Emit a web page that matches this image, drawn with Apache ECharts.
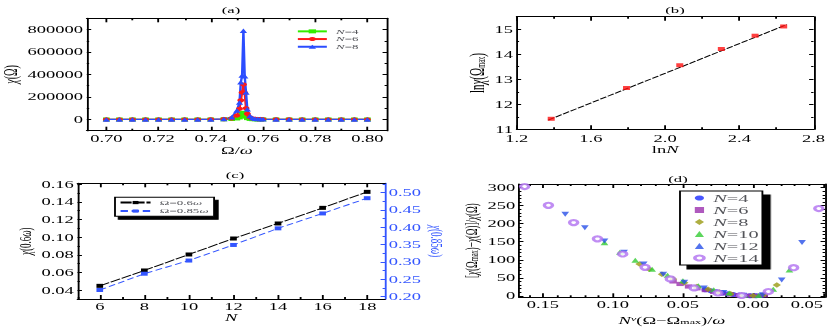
<!DOCTYPE html>
<html><head><meta charset="utf-8">
<script src="https://cdn.jsdelivr.net/npm/echarts@6/dist/echarts.min.js"></script>
<style>
html,body{margin:0;padding:0;background:#fff;overflow:hidden}
#wrap{width:830px;height:327px;overflow:hidden;position:relative;background:#fff}
#chart{height:327px;transform-origin:0 0}
</style></head>
<body><div id="wrap"><div id="chart"></div></div>
<script>
// ---------------- data ----------------
// (a) susceptibility vs frequency
const omegaA = [0.700,0.705,0.710,0.715,0.720,0.725,0.730,0.735,0.740,
  0.745,0.748,0.750,0.751,0.7515,0.752,0.7525,0.753,0.7535,0.754,0.755,0.756,0.757,0.758,0.759,0.760,
  0.765,0.770,0.775,0.780,0.785,0.790,0.795,0.800];
const chiN4 = [0,0,0,0,0,0,0,0,100,
  1500,4000,9000,18000,32000,52000,60000,45000,25000,12000,5000,2500,1500,1000,600,400,
  200,100,0,0,0,0,0,0];
const chiN6 = [0,0,0,0,0,0,0,0,200,
  3000,10000,35000,95000,170000,240000,311000,236000,100000,50000,20000,9000,5000,3000,2000,1500,
  500,200,100,0,0,0,0,0];
const chiN8 = [0,0,0,0,0,0,0,0,300,
  5000,20000,80000,150000,330000,390000,790000,385000,240000,90000,30000,12000,7000,4500,3000,2000,
  700,300,100,0,0,0,0,0];
// (b) ln chi(Omega_max) vs ln N
const lnN = [1.386,1.792,2.079,2.303,2.485,2.639];
const lnChiMax = [11.42,12.65,13.56,14.21,14.74,15.11];
const fitLnN = [1.37,2.655];
const fitLnChi = [11.37,15.18];
// (c) chi at fixed frequency vs N
const sizesN = [6,8,10,12,14,16,18];
const chi06 = [0.0449,0.0623,0.0804,0.0985,0.1155,0.1332,0.1513];
const chi085 = [0.219,0.266,0.304,0.349,0.397,0.440,0.484];
// (d) data collapse
const dxN4 = [-0.034,-0.030,-0.026,-0.022,-0.018,-0.014,-0.010,-0.006,-0.002,0.002,0.006];
const dyN4 = [17,14,11,8,5.5,3.5,2,1,0.2,0.2,1];
const dxN6 = [-0.057,-0.052,-0.046,-0.040,-0.034,-0.028,-0.022,-0.016,-0.010,-0.004,0.002,0.008];
const dyN6 = [40,33,26,21,16,11,7,4,2,0.5,0.2,1.5];
const dxN8 = [-0.081,-0.074,-0.065,-0.057,-0.049,-0.040,-0.032,-0.024,-0.016,-0.008,0.000,0.008,0.017];
const dyN8 = [88,74,60,47,36,26,18,11,6,2,0,4,30];
const dxN10 = [-0.106,-0.095,-0.084,-0.072,-0.061,-0.050,-0.039,-0.028,-0.017,-0.006,0.004,0.0145,0.026];
const dyN10 = [147,121,99,74,57,42,28,17,8,2,1,18,72];
const dxN12 = [-0.134,-0.120,-0.106,-0.092,-0.078,-0.064,-0.049,-0.035,-0.021,-0.007,0.007,0.0205,0.035];
const dyN12 = [226,189,152,121,88,60,38,22,9,1.5,3,44,148];
const dxN14 = [-0.163,-0.146,-0.128,-0.111,-0.093,-0.077,-0.059,-0.042,-0.025,-0.008,0.011,0.029,0.047];
const dyN14 = [303,251,203,158,116,79,47,22,8,1,12,78,242];
// tick labels
const ticksAx = [0.70,0.72,0.74,0.76,0.78,0.80];
const ticksAy = [0,200000,400000,600000,800000];
const ticksBx = [1.2,1.6,2.0,2.4,2.8];
const ticksBy = [11,12,13,14,15];
const ticksCx = [6,8,10,12,14,16,18];
const ticksCyL = [0.04,0.06,0.08,0.10,0.12,0.14,0.16];
const ticksCyR = [0.20,0.25,0.30,0.35,0.40,0.45,0.50];
const ticksDx = [-0.15,-0.10,-0.05,0.00,0.05];
const ticksDy = [0,50,100,150,200,250,300];
// minor ticks
const minAx = [0.71,0.73,0.75,0.77,0.79];
const minAy = [-100000,100000,300000,500000,700000,900000];
const minBx = [1.4,1.8,2.2,2.6];
const minBy = [11.5,12.5,13.5,14.5,15.5];
const minCx = [5,7,9,11,13,15,17];
const minCyL = [0.03,0.05,0.07,0.09,0.11,0.13,0.15];
const minCyR = [0.225,0.275,0.325,0.375,0.425,0.475,0.525];
const minDx = []; for (let i=-16;i<=5;i++) if (i%5!==0) minDx.push(i/100);
const minDy = []; for (let i=0;i<=31;i++) if (i%5!==0) minDy.push(i*10);

// ---------------- layout helpers ----------------
const S = 1.85;                 // horizontal stretch of the original figure
const W = 830 / S;
const ix = v => v / S;
const FONT = 'Liberation Serif';
document.getElementById('chart').style.width = W + 'px';
document.getElementById('chart').style.transform = 'scaleX(' + S + ')';

const zip = (a, b) => a.map((v, i) => [v, b[i]]);
const xAxes = [], yAxes = [];

function side(list, o) {
  const color = o.color || '#000';
  const isX = (o.pos === 'bottom' || o.pos === 'top');
  const lenMaj = isX ? 4 : 2.4, lenMin = isX ? 2 : 1.3;
  const major = {
    type:'value', gridIndex:o.grid, position:o.pos, min:o.min, max:o.max, offset:0,
    axisLine:{show:true, onZero:false, lineStyle:{color, width:1}},
    axisTick:{show:true, inside:true, length:lenMaj, customValues:o.maj, lineStyle:{color, width:1}},
    axisLabel: o.fmt ? {show:true, customValues:o.maj, formatter:o.fmt, margin:o.margin || (isX?3:2),
      color, fontFamily:FONT, fontSize:o.fs || 10, lineHeight:9, alignMaxLabel:o.alignMax || null} : {show:false},
    splitLine:{show:false}
  };
  if (o.name) {
    major.name = o.name; major.nameLocation = 'middle'; major.nameGap = o.gap;
    if (o.rot !== undefined) major.nameRotate = o.rot;
    major.nameTextStyle = {color, fontFamily:FONT, fontSize:o.nfs || 10,
      rich:{i:{fontStyle:'italic', fontFamily:FONT, fontSize:o.nfs || 10, color},
            sub:{fontSize:6.5, fontFamily:FONT, verticalAlign:'bottom', color, padding:[3,0,0,0]},
            sup:{fontSize:6.5, fontStyle:'italic', fontFamily:FONT, verticalAlign:'top', color, padding:[0,0,3,0]}}};
  }
  list.push(major);
  const idx = list.length - 1;
  list.push({
    type:'value', gridIndex:o.grid, position:o.pos, min:o.min, max:o.max, offset:0,
    axisLine:{show:false, onZero:false},
    axisTick:{show:true, inside:true, length:lenMin, customValues:o.minr, lineStyle:{color, width:1}},
    axisLabel:{show:false}, splitLine:{show:false}
  });
  return idx;
}

const grids = [
  {left:ix(80),    top:18.3, width:ix(307),   height:112.4},
  {left:ix(516.7), top:16.7, width:ix(303.3), height:112.6},
  {left:ix(77.5),  top:183.3,width:ix(307.5), height:115.7},
  {left:ix(519),   top:184,  width:ix(306),   height:113.3}
];

// (a)
const aX = side(xAxes,{grid:0,pos:'bottom',min:0.6925,max:0.8075,maj:ticksAx,minr:minAx,fmt:v=>v.toFixed(2),name:'Ω/{i|ω}',gap:15});
side(xAxes,{grid:0,pos:'top',min:0.6925,max:0.8075,maj:ticksAx,minr:minAx});
const aY = side(yAxes,{grid:0,pos:'left',min:-100000,max:900000,maj:ticksAy,minr:minAy,fmt:v=>String(Math.round(v)),name:'{i|χ}(Ω)',gap:33,rot:90});
side(yAxes,{grid:0,pos:'right',min:-100000,max:900000,maj:ticksAy,minr:minAy});
// (b)
const bX = side(xAxes,{grid:1,pos:'bottom',min:1.2,max:2.8,maj:ticksBx,minr:minBx,fmt:v=>v.toFixed(1),name:'ln{i|N}',gap:14,margin:5});
side(xAxes,{grid:1,pos:'top',min:1.2,max:2.8,maj:ticksBx,minr:minBx});
const bY = side(yAxes,{grid:1,pos:'left',min:11,max:15.5,maj:ticksBy,minr:minBy,fmt:v=>String(Math.round(v)),name:'ln{i|χ}(Ω{sub|max})',gap:15,rot:90,nfs:11});
side(yAxes,{grid:1,pos:'right',min:11,max:15.5,maj:ticksBy,minr:minBy});
// (c)
const cX = side(xAxes,{grid:2,pos:'bottom',min:5,max:18.8,maj:ticksCx,minr:minCx,fmt:v=>String(Math.round(v)),name:'{i|N}',gap:14});
side(xAxes,{grid:2,pos:'top',min:5,max:18.8,maj:ticksCx,minr:minCx});
const cYL = side(yAxes,{grid:2,pos:'left',min:0.03,max:0.161,maj:ticksCyL,minr:minCyL,fmt:v=>v.toFixed(2),name:'{i|χ}(0.6{i|ω})',gap:22,rot:90,nfs:9});
const cYR = side(yAxes,{grid:2,pos:'right',min:0.193,max:0.527,maj:ticksCyR,minr:minCyR,fmt:v=>v.toFixed(2),name:'{i|χ}(0.85{i|ω})',gap:21,rot:-90,nfs:9,color:'#3355ff'});
// (d)
const dX = side(xAxes,{grid:3,pos:'bottom',min:-0.167,max:0.0514,maj:ticksDx,minr:minDx,fmt:v=>Math.abs(v).toFixed(2),name:'{i|N}{sup|ν}(Ω−Ω{sub|max})/{i|ω}',gap:18,alignMax:'right'});
side(xAxes,{grid:3,pos:'top',min:-0.167,max:0.0514,maj:ticksDx,minr:minDx});
const dY = side(yAxes,{grid:3,pos:'left',min:-4,max:310,maj:ticksDy,minr:minDy,fmt:v=>String(Math.round(v)),name:'[{i|χ}(Ω{sub|max})−{i|χ}(Ω)]/{i|χ}(Ω)',gap:20,rot:90,nfs:9});
side(yAxes,{grid:3,pos:'right',min:-4,max:310,maj:ticksDy,minr:minDy});

const GREEN='#33ee00', RED='#ff1a1a', BLUE='#2b4dff';
function lineA(name, data, color, symbol, size) {
  return {type:'line', name, xAxisIndex:aX, yAxisIndex:aY, data:zip(omegaA, data), color,
    symbol, symbolSize:size, lineStyle:{width:1.3, color}, itemStyle:{color}, animation:false, z:2};
}
function scat(name, xs, ys, color, symbol, extra) {
  return Object.assign({type:'scatter', name, xAxisIndex:dX, yAxisIndex:dY, data:zip(xs, ys), color,
    symbol, symbolSize:[4.2,5], itemStyle:{color}, animation:false}, extra || {});
}

const series = [
  lineA('aN=4', chiN4, GREEN, 'rect', [3.6,4]),
  lineA('aN=6', chiN6, RED, 'circle', [3.8,4.2]),
  lineA('aN=8', chiN8, BLUE, 'triangle', [4,4.5]),
  {type:'line', name:'fit', xAxisIndex:bX, yAxisIndex:bY, data:zip(fitLnN, fitLnChi), symbol:'none',
    lineStyle:{color:'#000', width:0.9, type:[4,1]}, animation:false},
  {type:'scatter', name:'lnchi', xAxisIndex:bX, yAxisIndex:bY, data:zip(lnN, lnChiMax), symbol:'rect',
    symbolSize:[3.8,4], itemStyle:{color:'#ff1010'}, animation:false, z:3},
  {type:'line', name:'Ω=0.6ω', xAxisIndex:cX, yAxisIndex:cYL, data:zip(sizesN, chi06), color:'#000',
    symbol:'rect', symbolSize:[3.6,4], lineStyle:{color:'#000', width:0.9, type:[6,1]}, itemStyle:{color:'#000'}, animation:false},
  {type:'line', name:'Ω=0.85ω', xAxisIndex:cX, yAxisIndex:cYR, data:zip(sizesN, chi085), color:'#3355ff',
    symbol:'rect', symbolSize:[3.6,4], lineStyle:{color:'#3355ff', width:0.9, type:[4,2]}, itemStyle:{color:'#3355ff'}, animation:false},
  scat('dN=4', dxN4, dyN4, '#1a2cff', 'circle'),
  scat('dN=6', dxN6, dyN6, '#9b2fae', 'rect', {symbolSize:[4,4.2]}),
  scat('dN=8', dxN8, dyN8, '#9a9a12', 'diamond', {symbolSize:[4.5,5.5]}),
  scat('dN=10', dxN10, dyN10, '#33cc33', 'triangle'),
  scat('dN=12', dxN12, dyN12, '#2850e8', 'triangle', {symbolRotate:180}),
  scat('dN=14', dxN14, dyN14, '#b070f0', 'emptyCircle', {symbolSize:[4.4,5], itemStyle:{color:'#b070f0', borderWidth:0.55}})
];

const nFmt = n => '{i|N}' + n.slice(2);
const legends = [
  {data:['aN=4','aN=6','aN=8'], orient:'vertical', left:ix(296), top:27.5, padding:0, itemGap:0,
   itemWidth:ix(29), itemHeight:5, formatter:nFmt, selectedMode:false,
   textStyle:{fontFamily:FONT, fontSize:7, lineHeight:7.7, rich:{i:{fontStyle:'italic', fontFamily:FONT, fontSize:7}}}},
  {data:['Ω=0.6ω','Ω=0.85ω'], orient:'vertical', left:ix(115), top:197.3, padding:[1,3,1,2], itemGap:0,
   itemWidth:ix(30), itemHeight:4, selectedMode:false,
   formatter:n => n.replace('ω','{i|ω}'),
   backgroundColor:'#fff', borderColor:'#000', borderWidth:1,
   shadowColor:'#000', shadowBlur:0, shadowOffsetX:2, shadowOffsetY:3,
   textStyle:{fontFamily:FONT, fontSize:7, lineHeight:8.5, rich:{i:{fontStyle:'italic', fontFamily:FONT, fontSize:7}}}},
  {data:['dN=4','dN=6','dN=8','dN=10','dN=12','dN=14'], orient:'vertical', left:ix(680), top:191,
   padding:[1,2,1,7], itemGap:0, itemWidth:5, itemHeight:6, formatter:nFmt, selectedMode:false,
   backgroundColor:'#fff', borderColor:'#000', borderWidth:1,
   shadowColor:'#000', shadowBlur:0, shadowOffsetX:4, shadowOffsetY:4,
   textStyle:{fontFamily:FONT, fontSize:11, lineHeight:12, rich:{i:{fontStyle:'italic', fontFamily:FONT, fontSize:11}}}}
];

const titles = [['(a)',231,10],['(b)',675,10],['(c)',235,175],['(d)',678,179]].map(t => ({
  type:'text', x:ix(t[1]), y:t[2],
  style:{text:t[0], align:'center', verticalAlign:'middle', textAlign:'center', textVerticalAlign:'middle',
    fontFamily:FONT, fontSize:9, fill:'#000'}
}));

const chart = echarts.init(document.getElementById('chart'), null, {renderer:'svg'});
chart.setOption({
  animation:false,
  backgroundColor:'#fff',
  grid:grids,
  xAxis:xAxes,
  yAxis:yAxes,
  legend:legends,
  graphic:titles,
  series
});
</script>
</body></html>
